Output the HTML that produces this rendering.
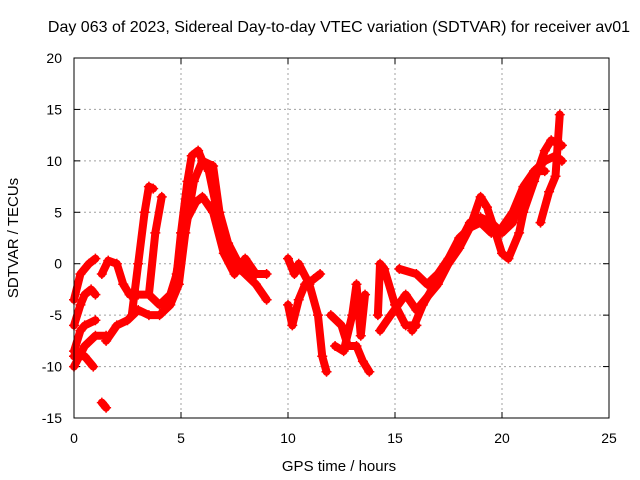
<!DOCTYPE html>
<html><head><meta charset="utf-8"><style>
body{margin:0;background:#fff}
svg{display:block;font-family:"Liberation Sans",sans-serif}
</style></head><body>
<svg id="chart" width="640" height="480">
<text x="339" y="32" text-anchor="middle" font-size="16">Day 063 of 2023, Sidereal Day-to-day VTEC variation (SDTVAR) for receiver av01</text>
<text x="339" y="471" text-anchor="middle" font-size="15">GPS time / hours</text>
<text transform="translate(18,238) rotate(-90)" text-anchor="middle" font-size="15">SDTVAR / TECUs</text>
<g id="grid"></g><g id="marks"></g>
<rect x="74" y="58" width="535" height="360" fill="none" stroke="#000" stroke-width="1"/>
</svg>
<script>
const xTicks=[0,5,10,15,20,25];
const yTicks=[-15,-10,-5,0,5,10,15,20];
const track1=[[0,-3.5],[0.3,-1],[0.7,0],[1,0.5]];
const track2=[[0,-6],[0.3,-4],[0.5,-3],[0.8,-2.5],[1,-3]];
const track3=[[0,-8.5],[0.3,-6.5],[0.5,-6],[1,-5.5]];
const track4=[[0,-10],[0.5,-8],[1,-7],[1.5,-7]];
const track5=[[0,-9],[0.5,-9],[0.9,-10]];
const track6=[[1.3,-13.5],[1.5,-14]];
const track7=[[1.3,-1],[1.6,0.3],[2,0],[2.3,-2],[2.6,-3],[3,-3],[3.5,-3],[4,-4],[4.5,-3],[4.8,-1],[5,3],[5.3,8],[5.5,10.5],[5.8,11],[6,10],[6.3,9],[6.6,6],[7,3],[7.5,0],[8,-1],[8.5,-2],[9,-3.5]];
const track8=[[1.5,-7.5],[2,-6],[2.5,-5.5],[3,-4.5],[3.5,-5],[4,-5],[4.5,-4],[4.9,-2],[5.2,3],[5.6,8],[6,10],[6.5,9.5],[6.8,5],[7.2,2],[7.7,0],[8.2,-1],[8.5,-1],[9,-1]];
const track9=[[2.7,-5],[3,0],[3.3,5],[3.5,7.5],[3.7,7.3]];
const track10=[[3.5,-3],[3.8,3],[4.1,6.5]];
const track11=[[4.7,-2],[5.2,4],[5.7,6],[6,6.5],[6.5,5],[7,1],[7.5,-1],[8,0.5],[8.5,-1]];
const track12=[[10,0.5],[10.3,-1],[10.5,0],[11,-2],[11.4,-5],[11.6,-9],[11.8,-10.5]];
const track13=[[10,-4],[10.2,-6],[10.5,-3.5],[10.8,-2],[11.2,-1.5],[11.5,-1]];
const track14=[[12,-5],[12.5,-6],[12.8,-8],[13.2,-8],[13.5,-9.5],[13.8,-10.5]];
const track15=[[12.2,-8],[12.6,-8.5],[13,-5],[13.2,-2],[13.4,-7],[13.6,-3]];
const track16=[[14.2,-5],[14.3,0],[14.5,-0.5],[15,-4],[15.5,-6],[16,-6]];
const track17=[[14.3,-6.5],[14.8,-5],[15.5,-3],[16,-4.5],[17,-2],[17.5,0],[18,1.5],[18.5,3.5],[19,6.5],[19.3,5.5],[19.7,3],[20,1],[20.3,0.5],[20.8,3],[21,5],[21.5,8],[22,11],[22.3,12],[22.8,11.5]];
const track18=[[15.2,-0.5],[16,-1],[16.5,-2],[17,-1],[18,2],[18.5,4],[19,4.5],[19.5,4],[20,3],[20.5,4],[21,7],[21.5,9],[22,10],[22.5,10.5],[22.8,10]];
const track19=[[15.8,-6.5],[16.3,-4],[17,-1.5],[17.5,0.5],[18,2.5],[18.5,3.5],[19,4],[19.5,3],[20,3.5],[20.5,5],[21,7.5],[21.5,9],[22,9]];
const track20=[[21.8,4],[22.2,7],[22.5,8.5],[22.7,14.5]];
const tracks=[track1,track2,track3,track4,track5,track6,track7,track8,track9,track10,track11,track12,track13,track14,track15,track16,track17,track18,track19,track20];

const NS="http://www.w3.org/2000/svg";
const X0=74,X1=609,Y0=418,Y1=58;
function sx(v){return X0+(v-0)/(25-0)*(X1-X0);}
function sy(v){return Y0-(v+15)/(20+15)*(Y0-Y1);}
function mk(t,a,parent){const e=document.createElementNS(NS,t);for(const k in a)e.setAttribute(k,a[k]);parent.appendChild(e);return e;}
const grid=document.getElementById('grid'),marks=document.getElementById('marks');
xTicks.forEach(v=>{
  const x=sx(v);
  if(v>0&&v<25){const g=mk('line',{x1:x,x2:x,y1:Y1,y2:Y0,stroke:'#a0a0a0','stroke-dasharray':'2,3'},grid);
  
  }
  mk('line',{x1:x,x2:x,y1:Y0,y2:Y0-6,stroke:'#000'},grid);
  mk('line',{x1:x,x2:x,y1:Y1,y2:Y1+6,stroke:'#000'},grid);
  const t=mk('text',{x:x,y:Y0+25,'text-anchor':'middle','font-size':14},grid);t.textContent=v;
  
  
});
yTicks.forEach(v=>{
  const y=sy(v);
  if(v>-15&&v<20){const g=mk('line',{x1:X0,x2:X1,y1:y,y2:y,stroke:'#a0a0a0','stroke-dasharray':'2,3'},grid);
  
  }
  mk('line',{x1:X0,x2:X0+6,y1:y,y2:y,stroke:'#000'},grid);
  mk('line',{x1:X1,x2:X1-6,y1:y,y2:y,stroke:'#000'},grid);
  const t=mk('text',{x:X0-12,y:y+5,'text-anchor':'end','font-size':14},grid);t.textContent=v;
  
  
});
tracks.forEach((tr,i)=>{
  const p=mk('polyline',{points:tr.map(d=>sx(d[0])+','+sy(d[1])).join(' '),fill:'none',stroke:'#f00','stroke-width':8,'stroke-linejoin':'round','stroke-linecap':'round'},marks);
  
  
  tr.forEach(d=>{
    const x=sx(d[0]),y=sy(d[1]);
    const m=mk('path',{d:`M${x-5},${y}H${x+5}M${x},${y-5}V${y+5}`,stroke:'#f00','stroke-width':1.5},marks);
    
    
  });
});
</script>
</body></html>
